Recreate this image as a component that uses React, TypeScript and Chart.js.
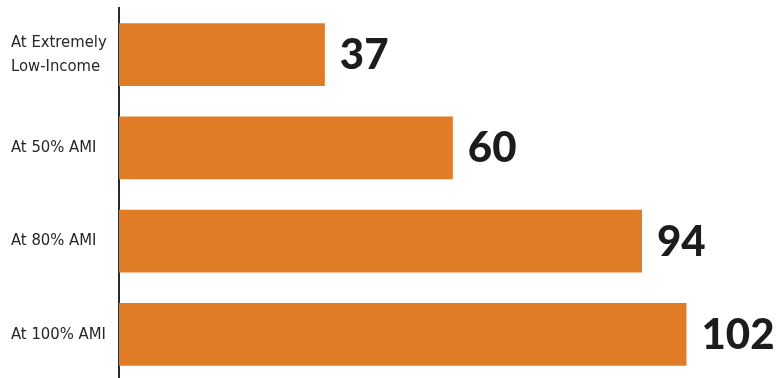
import React, { useEffect, useRef } from "react";
import { Chart, registerables } from "chart.js";

Chart.register(...registerables);

const categories: (string | string[])[] = [
  ["At Extremely", "Low-Income"],
  "At 50% AMI",
  "At 80% AMI",
  "At 100% AMI",
];
const values: number[] = [37, 60, 94, 102];
const valueLabels: string[] = ["37", "60", "94", "102"];

const BAR_COLOR = "#DF7C25";

const valueLabelPlugin = {
  id: "valueLabels",
  afterDatasetsDraw(chart: any) {
    const ctx = chart.ctx;
    const meta = chart.getDatasetMeta(0);
    ctx.save();
    ctx.font = "900 42px Lato, 'Open Sans', sans-serif";
    ctx.fillStyle = "#1c1c1c";
    ctx.textAlign = "left";
    ctx.textBaseline = "middle";
    meta.data.forEach((bar: any, i: number) => {
      ctx.fillText(valueLabels[i], bar.x + 15, bar.y + 1);
    });
    ctx.restore();
  },
};

export default function App() {
  const ref = useRef<HTMLCanvasElement | null>(null);

  useEffect(() => {
    document.body.style.margin = "0";
    if (!ref.current) return;
    const chart = new Chart(ref.current, {
      type: "bar",
      data: {
        labels: categories,
        datasets: [
          {
            data: values,
            backgroundColor: BAR_COLOR,
            borderWidth: 0,
            categoryPercentage: 1,
            barPercentage: 0.675,
          },
        ],
      },
      options: {
        indexAxis: "y",
        animation: false,
        responsive: false,
        maintainAspectRatio: false,
        layout: { padding: { left: 11, top: 8, right: 53, bottom: 0 } },
        plugins: {
          legend: { display: false },
          tooltip: { enabled: false },
        },
        scales: {
          x: {
            display: false,
            min: 0,
            max: 110,
          },
          y: {
            grid: { display: false, drawTicks: false },
            border: { display: true, color: "#2a2a2a", width: 2 },
            ticks: {
              crossAlign: "far",
              padding: 0,
              color: "#262626",
              font: {
                family: "'Liberation Sans Narrow', 'DejaVu Sans Condensed', sans-serif",
                size: 16.5,
                lineHeight: 1.45,
              },
            },
            afterFit(scale: any) {
              scale.width = 108;
              scale.paddingTop = 0;
              scale.paddingBottom = 0;
            },
          },
        },
      },
      plugins: [valueLabelPlugin],
    });
    return () => chart.destroy();
  }, []);

  return (
    <div style={{ width: 784, height: 378, overflow: "hidden", background: "#fff" }}>
      <canvas ref={ref} width={784} height={381} style={{ display: "block" }} />
    </div>
  );
}
